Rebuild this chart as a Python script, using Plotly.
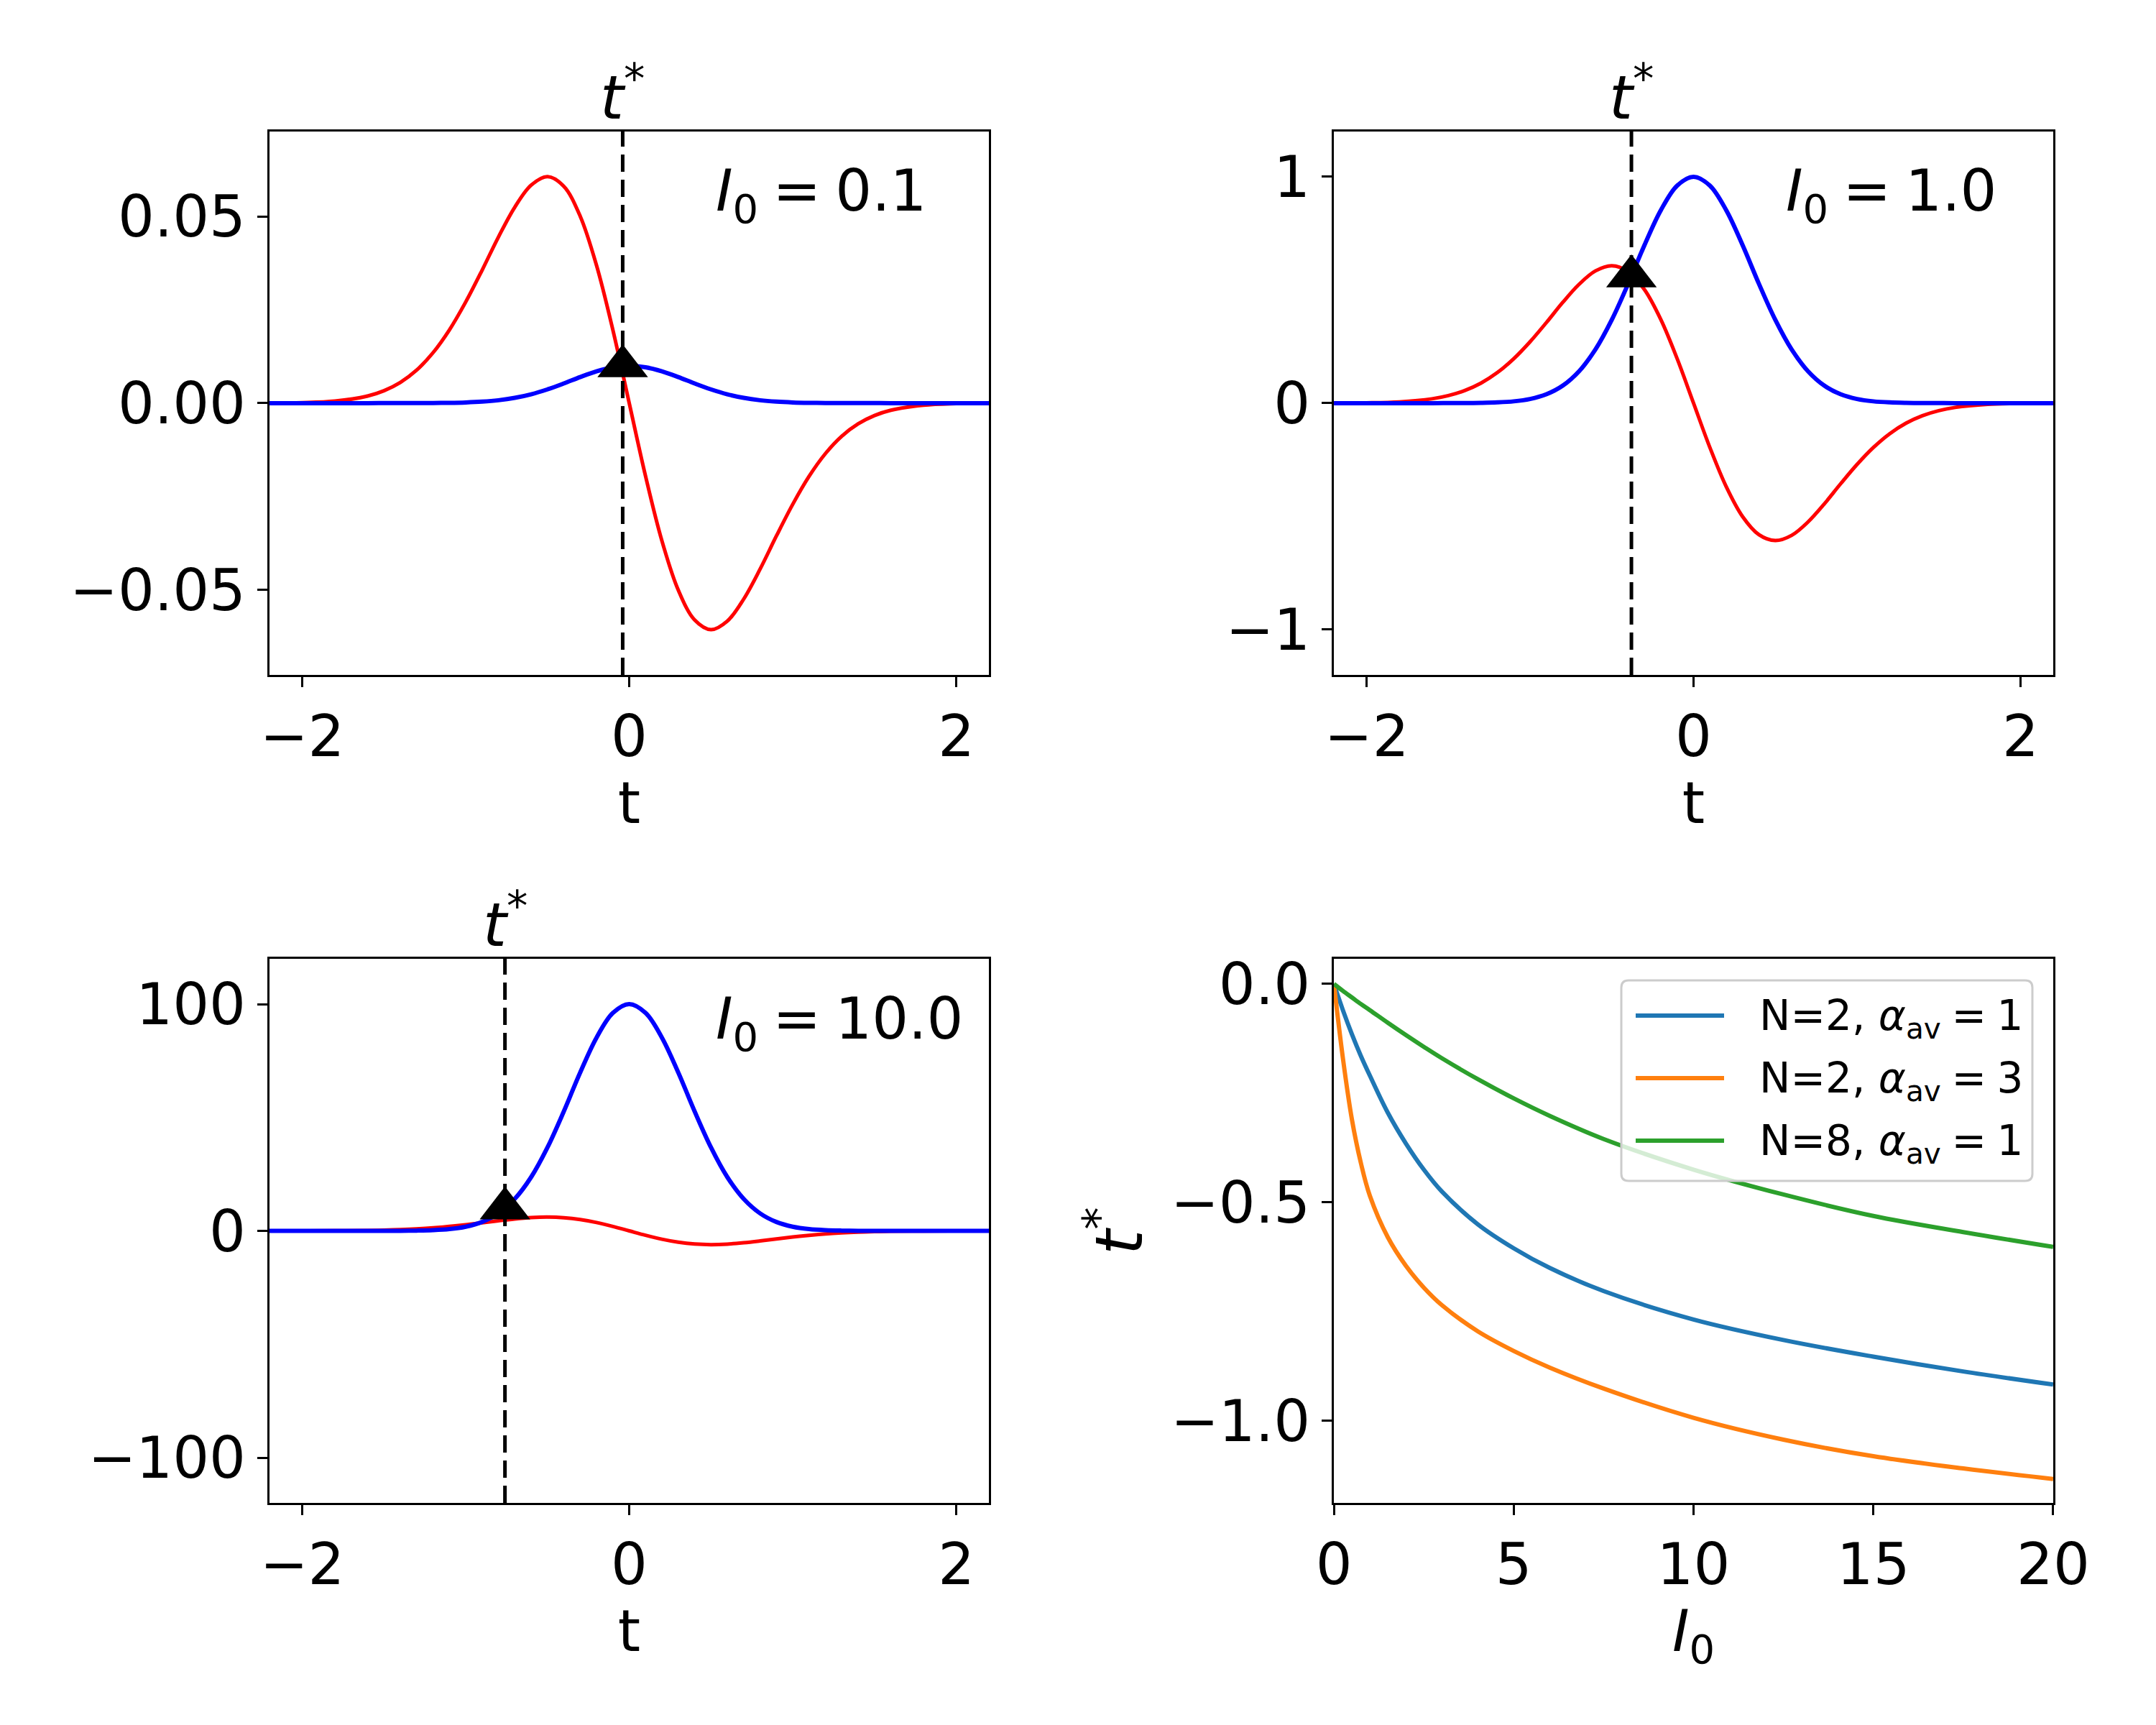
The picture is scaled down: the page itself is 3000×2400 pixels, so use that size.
import plotly.graph_objects as go

# time grid shared by the three pulse panels
t = [-2.2, -2.0, -1.8, -1.6, -1.5, -1.4, -1.3, -1.2, -1.1, -1.0, -0.9, -0.8, -0.7, -0.6,
     -0.5, -0.4, -0.3, -0.2, -0.1, 0.0, 0.1, 0.2, 0.3, 0.4, 0.5, 0.6, 0.7, 0.8, 0.9, 1.0,
     1.1, 1.2, 1.3, 1.4, 1.5, 1.6, 1.8, 2.0, 2.2]

# I0 = 0.1
blue_01 = [0, 0, 0, 0, 0.000001, 0.000004, 0.000012, 0.000032, 0.000079, 0.000183, 0.000392,
           0.000773, 0.00141, 0.00237, 0.00368, 0.00527, 0.00698, 0.00852, 0.00961, 0.0100,
           0.00961, 0.00852, 0.00698, 0.00527, 0.00368, 0.00237, 0.00141, 0.000773, 0.000392,
           0.000183, 0.000079, 0.000032, 0.000012, 0.000004, 0.000001, 0, 0, 0, 0]
red_01 = [0.00003, 0.00013, 0.00055, 0.00191, 0.00333, 0.00555, 0.00885, 0.0135, 0.0196, 0.0271,
          0.0356, 0.0445, 0.0525, 0.0584, 0.0607, 0.0581, 0.0501, 0.0369, 0.0196, 0.0,
          -0.0196, -0.0369, -0.0501, -0.0581, -0.0607, -0.0584, -0.0525, -0.0445, -0.0356,
          -0.0271, -0.0196, -0.0135, -0.00885, -0.00555, -0.00333, -0.00191, -0.00055,
          -0.00013, -0.00003]

# I0 = 1.0
blue_1 = [0, 0, 0, 0, 0.0001, 0.0004, 0.0012, 0.0032, 0.0079, 0.0183, 0.0392, 0.0773, 0.141,
          0.237, 0.368, 0.527, 0.698, 0.852, 0.961, 1.0, 0.961, 0.852, 0.698, 0.527, 0.368,
          0.237, 0.141, 0.0773, 0.0392, 0.0183, 0.0079, 0.0032, 0.0012, 0.0004, 0.0001,
          0, 0, 0, 0]
red_1 = [0.0003, 0.0013, 0.0055, 0.0191, 0.0333, 0.0555, 0.0885, 0.135, 0.196, 0.271, 0.356,
         0.445, 0.525, 0.584, 0.607, 0.581, 0.501, 0.369, 0.196, 0.0, -0.196, -0.369, -0.501,
         -0.581, -0.607, -0.584, -0.525, -0.445, -0.356, -0.271, -0.196, -0.135, -0.0885,
         -0.0555, -0.0333, -0.0191, -0.0055, -0.0013, -0.0003]

# I0 = 10.0
blue_10 = [0, 0, 0, 0, 0.01, 0.04, 0.12, 0.32, 0.79, 1.83, 3.92, 7.73, 14.1, 23.7, 36.8, 52.7,
           69.8, 85.2, 96.1, 100.0, 96.1, 85.2, 69.8, 52.7, 36.8, 23.7, 14.1, 7.73, 3.92, 1.83,
           0.79, 0.32, 0.12, 0.04, 0.01, 0, 0, 0, 0]
red_10 = [0.003, 0.013, 0.055, 0.191, 0.333, 0.555, 0.885, 1.35, 1.96, 2.71, 3.56, 4.45, 5.25,
          5.84, 6.07, 5.81, 5.01, 3.69, 1.96, 0.0, -1.96, -3.69, -5.01, -5.81, -6.07, -5.84,
          -5.25, -4.45, -3.56, -2.71, -1.96, -1.35, -0.885, -0.555, -0.333, -0.191, -0.055,
          -0.013, -0.003]

panel_labels = ["0.1", "1.0", "10.0"]
t_star = [-0.04, -0.38, -0.76]
t_star_y = [0.0099, 0.56, 9.9]

# t* versus I0
I0 = [0, 0.25, 0.5, 0.75, 1, 1.5, 2, 2.5, 3, 4, 5, 6, 7.5, 10, 12.5, 15, 17.5, 20]
ts_n2_a1 = [0, -0.06, -0.115, -0.165, -0.21, -0.295, -0.365, -0.425, -0.475, -0.55, -0.605,
            -0.65, -0.703, -0.768, -0.815, -0.853, -0.887, -0.917]
ts_n2_a3 = [0, -0.17, -0.31, -0.41, -0.485, -0.58, -0.645, -0.695, -0.735, -0.795, -0.84,
            -0.878, -0.926, -0.993, -1.043, -1.081, -1.109, -1.133]
ts_n8_a1 = [0, -0.016, -0.031, -0.046, -0.06, -0.089, -0.117, -0.144, -0.17, -0.218, -0.262,
            -0.302, -0.355, -0.425, -0.482, -0.531, -0.568, -0.602]
EQ = "\u2005=\u2005"
series_names = ["N=2, <i>α</i><sub>av</sub>" + EQ + "1",
                "N=2, <i>α</i><sub>av</sub>" + EQ + "3",
                "N=8, <i>α</i><sub>av</sub>" + EQ + "1"]
series_colors = ["#1f77b4", "#ff7f0e", "#2ca02c"]

FONT = "DejaVu Sans"
W, H = 3000, 2400
fig = go.Figure()

pulses = [(blue_01, red_01), (blue_1, red_1), (blue_10, red_10)]
for i, (b, r) in enumerate(pulses):
    ax = "" if i == 0 else str(i + 1)
    fig.add_trace(go.Scatter(x=t, y=r, mode="lines", line=dict(color="red", width=5, shape="spline"),
                             xaxis="x" + ax, yaxis="y" + ax, showlegend=False))
    fig.add_trace(go.Scatter(x=t, y=b, mode="lines", line=dict(color="blue", width=6, shape="spline"),
                             xaxis="x" + ax, yaxis="y" + ax, showlegend=False))
    fig.add_shape(type="line", xref="x" + ax, yref="y" + ax + " domain",
                  x0=t_star[i], x1=t_star[i], y0=0, y1=1,
                  line=dict(color="black", width=5, dash="24px,11px"))
    fig.add_trace(go.Scatter(x=[t_star[i]], y=[t_star_y[i]], mode="markers",
                             marker=dict(symbol="triangle-up", size=61, color="black"),
                             xaxis="x" + ax, yaxis="y" + ax, showlegend=False))
    fig.add_annotation(xref="x" + ax, yref="y" + ax + " domain", x=t_star[i], y=1,
                       yanchor="bottom", yshift=-4, showarrow=False,
                       text="<i>t</i><sup>*</sup>", font=dict(family=FONT, size=84, color="black"))

for ys, name, col in zip([ts_n2_a1, ts_n2_a3, ts_n8_a1], series_names, series_colors):
    fig.add_trace(go.Scatter(x=I0, y=ys, mode="lines", name=name, showlegend=False,
                             line=dict(color=col, width=6, shape="spline"),
                             xaxis="x4", yaxis="y4"))

# legend box drawn by hand (rounded, semi-transparent like the original)
lx0, lx1, ly0, ly1 = 2256 / W, 2828 / W, 1 - 1643 / H, 1 - 1364 / H
rx, ry = 10 / W, 10 / H
box = (f"M {lx0 + rx},{ly0} L {lx1 - rx},{ly0} Q {lx1},{ly0} {lx1},{ly0 + ry} "
       f"L {lx1},{ly1 - ry} Q {lx1},{ly1} {lx1 - rx},{ly1} L {lx0 + rx},{ly1} "
       f"Q {lx0},{ly1} {lx0},{ly1 - ry} L {lx0},{ly0 + ry} Q {lx0},{ly0} {lx0 + rx},{ly0} Z")
fig.add_shape(type="path", xref="paper", yref="paper", path=box, layer="above",
              fillcolor="rgba(255,255,255,0.8)", line=dict(color="#cccccc", width=3))
for k, (name, col) in enumerate(zip(series_names, series_colors)):
    yy = 1 - (1413 + 87 * k) / H
    fig.add_shape(type="line", xref="paper", yref="paper", x0=2276 / W, x1=2399 / W,
                  y0=yy, y1=yy, layer="above", line=dict(color=col, width=6))
    fig.add_annotation(xref="paper", yref="paper", x=2446 / W, y=yy, xanchor="left",
                       yanchor="middle", yshift=-4, showarrow=False, text=name,
                       font=dict(family=FONT, size=58, color="black"))

# I0 labels inside the pulse panels
label_pos = [(0.3313, 0.887), (0.8276, 0.887), (0.3313, 0.407)]
for (px, py), lab in zip(label_pos, panel_labels):
    fig.add_annotation(xref="paper", yref="paper", x=px, y=py, xanchor="left", yanchor="middle",
                       showarrow=False, text="<i>I</i><sub>0</sub>" + EQ + lab,
                       font=dict(family=FONT, size=80, color="black"))

axis_common = dict(showline=True, linecolor="black", linewidth=3, mirror=True,
                   ticks="outside", ticklen=14, tickwidth=3, tickcolor="black",
                   showgrid=False, zeroline=False, automargin=False,
                   tickfont=dict(family=FONT, size=80, color="black"))

xd_left, xd_right = [0.125, 0.4587], [0.6187, 0.9523]
yd_top, yd_bot = [0.6088, 0.9238], [0.1287, 0.4442]
t_axis = dict(range=[-2.2, 2.2], tickvals=[-2, 0, 2],
              title=dict(text="t", font=dict(family=FONT, size=80, color="black"), standoff=0),
              **axis_common)

fig.update_layout(
    width=W, height=H, autosize=False,
    margin=dict(l=0, r=0, t=0, b=0, pad=0),
    paper_bgcolor="white", plot_bgcolor="white", showlegend=False,
    xaxis=dict(domain=xd_left, anchor="y", **t_axis),
    yaxis=dict(domain=yd_top, anchor="x", range=[-0.0728, 0.0728], tickvals=[-0.05, 0, 0.05],
               tickformat=".2f", **axis_common),
    xaxis2=dict(domain=xd_right, anchor="y2", **t_axis),
    yaxis2=dict(domain=yd_top, anchor="x2", range=[-1.2, 1.2], tickvals=[-1, 0, 1], **axis_common),
    xaxis3=dict(domain=xd_left, anchor="y3", **t_axis),
    yaxis3=dict(domain=yd_bot, anchor="x3", range=[-120, 120], tickvals=[-100, 0, 100], **axis_common),
    xaxis4=dict(domain=xd_right, anchor="y4", range=[0, 20], tickvals=[0, 5, 10, 15, 20],
                title=dict(text="<i>I</i><sub>0</sub>", font=dict(family=FONT, size=80, color="black"),
                           standoff=0),
                **axis_common),
    yaxis4=dict(domain=yd_bot, anchor="x4", range=[-1.188, 0.0576], tickvals=[-1.0, -0.5, 0.0],
                tickformat=".1f",
                title=dict(text="<i>t</i><sup>*</sup>", font=dict(family=FONT, size=90, color="black"),
                           standoff=10),
                **axis_common),
)

fig.write_html("out.html", config={"displayModeBar": False},
               post_script="document.body.style.margin='0px';")
